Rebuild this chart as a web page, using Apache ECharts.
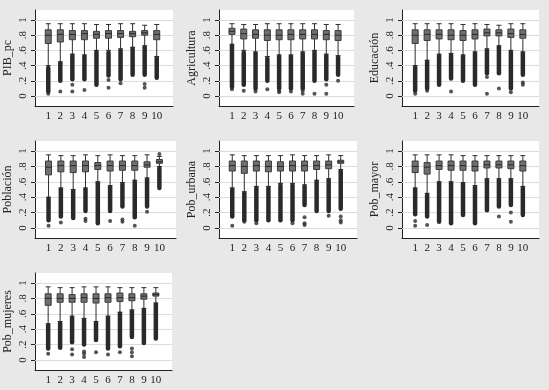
<!DOCTYPE html>
<html>
<head>
<meta charset="utf-8">
<script src="https://cdn.jsdelivr.net/npm/echarts@6/dist/echarts.min.js"></script>
<style>
  html, body { margin: 0; padding: 0; background: #e8e8e8; }
  #chart { width: 549px; height: 390px; }
</style>
</head>
<body>
<div id="chart"></div>
<script>
// 分类与刻度
var cats = [1, 2, 3, 4, 5, 6, 7, 8, 9, 10];
var yTicks = [0, 0.2, 0.4, 0.6, 0.8, 1];
var names = ['PIB_pc', 'Agricultura', 'Educación', 'Población', 'Pob_urbana', 'Pob_mayor', 'Pob_mujeres'];

// 每个盒子: [下须, Q1, 中位数, Q3, 上须]
var pibBox = [
  [0.40, 0.69, 0.80, 0.87, 0.95], [0.45, 0.71, 0.81, 0.87, 0.95], [0.55, 0.74, 0.81, 0.86, 0.95],
  [0.54, 0.74, 0.82, 0.86, 0.95], [0.60, 0.76, 0.81, 0.85, 0.94], [0.60, 0.76, 0.82, 0.86, 0.94],
  [0.62, 0.77, 0.82, 0.86, 0.95], [0.64, 0.78, 0.82, 0.85, 0.95], [0.66, 0.80, 0.83, 0.86, 0.93],
  [0.52, 0.74, 0.81, 0.86, 0.94]
];
// 密集离群点范围 [低, 高]
var pibBand = [[0.06, 0.37], [0.20, 0.43], [0.22, 0.53], [0.22, 0.52], [0.15, 0.58],
  [0.27, 0.57], [0.22, 0.60], [0.28, 0.62], [0.28, 0.64], [0.24, 0.50]];
// 单独离群点 [类别, 值]
var pibOut = [[1, 0.03], [2, 0.06], [3, 0.15], [3, 0.06], [4, 0.08], [6, 0.21], [6, 0.11],
  [7, 0.17], [9, 0.16], [9, 0.11]];

var agrBox = [
  [0.68, 0.81, 0.85, 0.89, 0.95], [0.60, 0.75, 0.82, 0.88, 0.94], [0.58, 0.76, 0.81, 0.87, 0.94],
  [0.52, 0.73, 0.80, 0.87, 0.95], [0.54, 0.74, 0.80, 0.87, 0.95], [0.54, 0.74, 0.81, 0.87, 0.95],
  [0.58, 0.75, 0.81, 0.87, 0.95], [0.60, 0.75, 0.81, 0.87, 0.95], [0.55, 0.74, 0.81, 0.86, 0.94],
  [0.53, 0.73, 0.80, 0.86, 0.94]
];
var agrBand = [[0.12, 0.66], [0.15, 0.57], [0.10, 0.56], [0.20, 0.49], [0.10, 0.52],
  [0.10, 0.52], [0.10, 0.56], [0.20, 0.58], [0.22, 0.53], [0.28, 0.51]];
var agrOut = [[1, 0.09], [2, 0.07], [3, 0.06], [4, 0.09], [5, 0.07], [5, 0.05], [6, 0.06],
  [7, 0.07], [7, 0.03], [8, 0.03], [9, 0.15], [9, 0.03], [10, 0.20]];

var eduBox = [
  [0.40, 0.69, 0.80, 0.87, 0.95], [0.47, 0.73, 0.81, 0.87, 0.95], [0.55, 0.75, 0.81, 0.87, 0.95],
  [0.56, 0.74, 0.80, 0.87, 0.95], [0.54, 0.73, 0.80, 0.86, 0.94], [0.58, 0.75, 0.81, 0.87, 0.95],
  [0.62, 0.79, 0.83, 0.88, 0.94], [0.66, 0.79, 0.83, 0.87, 0.93], [0.60, 0.77, 0.82, 0.88, 0.95],
  [0.58, 0.76, 0.81, 0.87, 0.95]
];
var eduBand = [[0.07, 0.38], [0.10, 0.45], [0.15, 0.53], [0.23, 0.54], [0.20, 0.52],
  [0.15, 0.56], [0.30, 0.60], [0.30, 0.64], [0.10, 0.58], [0.28, 0.56]];
var eduOut = [[1, 0.03], [2, 0.07], [4, 0.06], [7, 0.25], [7, 0.03], [8, 0.10], [9, 0.05],
  [10, 0.18], [10, 0.15]];

var pobBox = [
  [0.40, 0.69, 0.79, 0.87, 0.95], [0.52, 0.73, 0.81, 0.87, 0.94], [0.50, 0.72, 0.81, 0.87, 0.94],
  [0.52, 0.73, 0.81, 0.87, 0.95], [0.60, 0.76, 0.81, 0.85, 0.94], [0.55, 0.74, 0.81, 0.87, 0.95],
  [0.59, 0.75, 0.81, 0.87, 0.94], [0.62, 0.75, 0.81, 0.87, 0.94], [0.65, 0.79, 0.82, 0.86, 0.95],
  [0.80, 0.84, 0.86, 0.89, 0.93]
];
var pobBand = [[0.10, 0.38], [0.15, 0.50], [0.13, 0.48], [0.22, 0.50], [0.06, 0.58],
  [0.22, 0.53], [0.28, 0.57], [0.14, 0.60], [0.28, 0.63], [0.52, 0.78]];
var pobOut = [[1, 0.03], [2, 0.07], [4, 0.12], [4, 0.09], [6, 0.09], [7, 0.11], [7, 0.08],
  [8, 0.03], [9, 0.21], [10, 0.96]];

var urbBox = [
  [0.52, 0.74, 0.81, 0.87, 0.95], [0.47, 0.71, 0.80, 0.87, 0.94], [0.54, 0.74, 0.81, 0.87, 0.94],
  [0.54, 0.73, 0.80, 0.87, 0.94], [0.58, 0.74, 0.80, 0.86, 0.94], [0.58, 0.74, 0.81, 0.87, 0.95],
  [0.56, 0.74, 0.81, 0.87, 0.94], [0.62, 0.76, 0.81, 0.87, 0.94], [0.64, 0.77, 0.82, 0.87, 0.95],
  [0.76, 0.84, 0.86, 0.88, 0.94]
];
var urbBand = [[0.15, 0.50], [0.10, 0.45], [0.10, 0.52], [0.10, 0.52], [0.10, 0.56],
  [0.10, 0.56], [0.30, 0.54], [0.22, 0.60], [0.22, 0.62], [0.25, 0.74]];
var urbOut = [[1, 0.03], [2, 0.08], [3, 0.06], [6, 0.06], [7, 0.14], [7, 0.06], [7, 0.04],
  [9, 0.16], [10, 0.15], [10, 0.10], [10, 0.07]];

var mayBox = [
  [0.52, 0.72, 0.80, 0.87, 0.95], [0.45, 0.70, 0.79, 0.85, 0.95], [0.60, 0.76, 0.81, 0.87, 0.95],
  [0.60, 0.75, 0.81, 0.87, 0.95], [0.59, 0.75, 0.81, 0.87, 0.94], [0.55, 0.74, 0.80, 0.87, 0.94],
  [0.64, 0.78, 0.82, 0.87, 0.94], [0.64, 0.78, 0.82, 0.87, 0.94], [0.64, 0.77, 0.82, 0.87, 0.94],
  [0.54, 0.74, 0.81, 0.87, 0.94]
];
var mayBand = [[0.18, 0.50], [0.15, 0.43], [0.08, 0.58], [0.06, 0.58], [0.17, 0.57],
  [0.06, 0.53], [0.23, 0.62], [0.28, 0.62], [0.30, 0.62], [0.17, 0.52]];
var mayOut = [[1, 0.09], [1, 0.03], [2, 0.04], [8, 0.15], [9, 0.20], [9, 0.08]];

var mujBox = [
  [0.47, 0.71, 0.80, 0.86, 0.95], [0.50, 0.75, 0.80, 0.86, 0.94], [0.57, 0.75, 0.80, 0.85, 0.94],
  [0.54, 0.75, 0.81, 0.86, 0.95], [0.50, 0.74, 0.80, 0.86, 0.95], [0.57, 0.75, 0.81, 0.86, 0.95],
  [0.62, 0.76, 0.81, 0.87, 0.94], [0.65, 0.77, 0.81, 0.86, 0.94], [0.67, 0.79, 0.83, 0.86, 0.94],
  [0.74, 0.83, 0.85, 0.87, 0.94]
];
var mujBand = [[0.15, 0.45], [0.16, 0.48], [0.23, 0.55], [0.20, 0.52], [0.26, 0.48],
  [0.15, 0.55], [0.18, 0.60], [0.30, 0.63], [0.22, 0.65], [0.28, 0.72]];
var mujOut = [[1, 0.08], [3, 0.14], [3, 0.07], [4, 0.11], [4, 0.08], [4, 0.04], [5, 0.10],
  [6, 0.07], [7, 0.10], [8, 0.15], [8, 0.10], [8, 0.05]];

var boxes = [pibBox, agrBox, eduBox, pobBox, urbBox, mayBox, mujBox];
var bands = [pibBand, agrBand, eduBand, pobBand, urbBand, mayBand, mujBand];
var outs = [pibOut, agrOut, eduOut, pobOut, urbOut, mayOut, mujOut];

// 各面板绘图区位置 [left, top, width, height]
var rects = [
  [35, 10, 138, 96], [219, 10, 135, 96], [402, 10, 137, 96],
  [35, 141, 141, 97], [219, 141, 138, 97], [402, 141, 137, 97],
  [35, 273, 137, 97]
];

var myChart = echarts.init(document.getElementById('chart'));
var font = 'Liberation Serif';

function renderBox(params, api) {
  var x = api.value(0);
  var lo = api.coord([x, api.value(1)]);
  var q1 = api.coord([x, api.value(2)]);
  var md = api.coord([x, api.value(3)]);
  var q3 = api.coord([x, api.value(4)]);
  var hi = api.coord([x, api.value(5)]);
  var bw = 6, cw = 5;
  var ws = { stroke: '#2e2e2e', lineWidth: 1 };
  return {
    type: 'group',
    children: [
      { type: 'line', shape: { x1: lo[0], y1: lo[1], x2: q1[0], y2: q1[1] }, style: ws },
      { type: 'line', shape: { x1: hi[0], y1: hi[1], x2: q3[0], y2: q3[1] }, style: ws },
      { type: 'line', shape: { x1: hi[0] - cw / 2, y1: hi[1], x2: hi[0] + cw / 2, y2: hi[1] }, style: ws },
      { type: 'line', shape: { x1: lo[0] - cw / 2, y1: lo[1], x2: lo[0] + cw / 2, y2: lo[1] }, style: ws },
      { type: 'rect', shape: { x: q3[0] - bw / 2, y: q3[1], width: bw, height: q1[1] - q3[1] },
        style: { fill: '#707070', stroke: '#3a3a3a', lineWidth: 1 } },
      { type: 'line', shape: { x1: md[0] - bw / 2, y1: md[1], x2: md[0] + bw / 2, y2: md[1] },
        style: { stroke: '#262626', lineWidth: 1 } }
    ]
  };
}

function renderBand(params, api) {
  var x = api.value(0);
  var a = api.coord([x, api.value(1)]);
  var b = api.coord([x, api.value(2)]);
  return {
    type: 'line',
    shape: { x1: a[0], y1: a[1], x2: b[0], y2: b[1] },
    style: { stroke: '#2a2a2a', lineWidth: 4.5, lineCap: 'round' }
  };
}

function yLabel(v) {
  if (v === 0) return '0';
  if (v === 1) return '1';
  return String(v).replace('0.', '.');
}

var grids = [], xAxes = [], yAxes = [], series = [];
names.forEach(function (name, i) {
  var r = rects[i];
  grids.push({ left: r[0], top: r[1], width: r[2], height: r[3], show: true,
    backgroundColor: '#ffffff', borderWidth: 0 });
  xAxes.push({
    type: 'value', gridIndex: i, min: -0.1, max: 11.35,
    axisLine: { show: true, onZero: false, lineStyle: { color: '#222', width: 1 } },
    axisTick: { show: false },
    splitLine: { show: false },
    axisLabel: { customValues: cats, color: '#222', fontFamily: font, fontSize: 11, margin: 5 }
  });
  yAxes.push({
    type: 'value', gridIndex: i, min: -0.13, max: 1.13,
    name: name, nameLocation: 'middle', nameRotate: 90, nameGap: 21,
    nameTextStyle: { color: '#222', fontFamily: font, fontSize: 12 },
    axisLine: { show: true, onZero: false, lineStyle: { color: '#222', width: 1 } },
    axisTick: { show: true, customValues: yTicks, length: 4, lineStyle: { color: '#222' } },
    splitLine: { show: false },
    axisLabel: { customValues: yTicks, rotate: 90, color: '#222', fontFamily: font,
      fontSize: 11, margin: 6, formatter: yLabel }
  });
  // 网格线
  series.push({
    type: 'scatter', xAxisIndex: i, yAxisIndex: i, data: [], silent: true,
    markLine: {
      silent: true, symbol: 'none', label: { show: false },
      lineStyle: { color: '#dcdcdc', width: 1, type: 'solid' },
      data: yTicks.map(function (t) { return { yAxis: t }; })
    }
  });
  series.push({
    type: 'custom', xAxisIndex: i, yAxisIndex: i, z: 10, silent: true,
    renderItem: renderBand,
    encode: { x: 0, y: [1, 2] },
    data: bands[i].map(function (b, k) { return [cats[k], b[0], b[1]]; })
  });
  series.push({
    type: 'scatter', xAxisIndex: i, yAxisIndex: i, z: 11, silent: true,
    symbolSize: 4, itemStyle: { color: '#2a2a2a' },
    data: outs[i]
  });
  series.push({
    type: 'custom', xAxisIndex: i, yAxisIndex: i, z: 12, silent: true,
    renderItem: renderBox,
    encode: { x: 0, y: [1, 2, 3, 4, 5] },
    data: boxes[i].map(function (b, k) { return [cats[k]].concat(b); })
  });
});

var option = {
  backgroundColor: '#e8e8e8',
  animation: false,
  grid: grids,
  xAxis: xAxes,
  yAxis: yAxes,
  series: series
};

myChart.setOption(option);
</script>
</body>
</html>
